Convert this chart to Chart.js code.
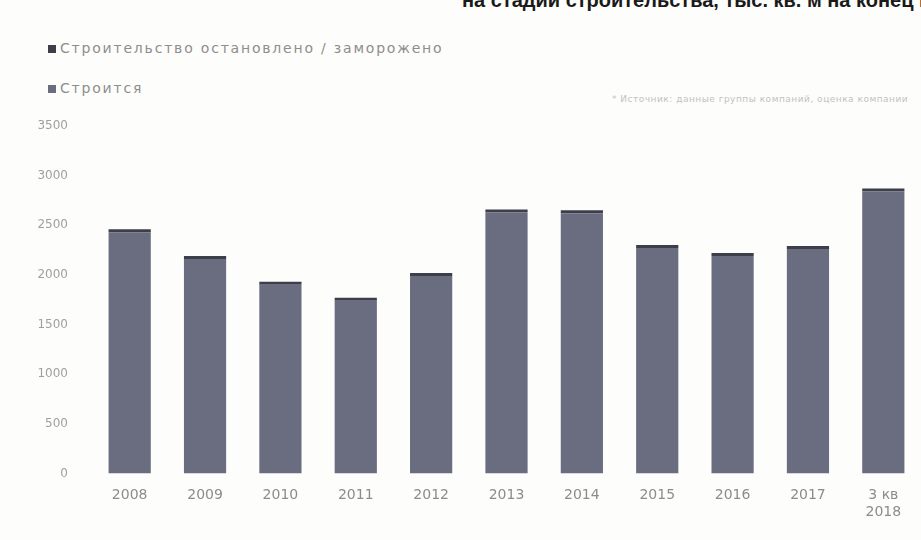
<!DOCTYPE html>
<html>
<head>
<meta charset="utf-8">
<script src="https://cdn.jsdelivr.net/npm/chart.js@4.4.1/dist/chart.umd.min.js"></script>
<style>
  body { margin: 0; background: #fdfdfb; font-family: "DejaVu Sans", sans-serif; }
  #wrap { position: relative; width: 921px; height: 540px; overflow: hidden; }
  #title { position: absolute; top: -11px; left: 462px; white-space: nowrap; font-family: "Liberation Sans", Arial, sans-serif; font-weight: bold; font-size: 20px; color: #1a1a1a; }
  #legend { position: absolute; left: 48px; top: 38px; font-size: 14px; letter-spacing: 1.8px; color: #8e8e8e; }
  #legend div { height: 40px; line-height: 20px; }
  #legend span.box { display: inline-block; width: 8px; height: 8px; margin-right: 4px; }
  #source { position: absolute; left: 612px; top: 94px; white-space: nowrap; font-size: 9px; letter-spacing: 0.5px; color: #c2c2c2; }
  #chart1 { position: absolute; left: 0; top: 0; }
</style>
</head>
<body>
<div id="wrap">
  <div id="title">на стадии строительства, тыс. кв. м на конец периода</div>
  <div id="legend"></div>
  <div id="source">* Источник: данные группы компаний, оценка компании</div>
  <canvas id="chart1" width="921" height="540"></canvas>
</div>
<script>
// data
const years = ["2008", "2009", "2010", "2011", "2012", "2013", "2014", "2015", "2016", "2017", ["3 кв", "2018"]];
const underConstruction = [2430, 2160, 1900, 1740, 1990, 2630, 2620, 2270, 2190, 2260, 2840];
const frozen = [30, 30, 30, 30, 30, 30, 30, 30, 30, 30, 30];
const yTicks = [0, 500, 1000, 1500, 2000, 2500, 3000, 3500];

const seriesNames = ["Строительство остановлено / заморожено", "Строится"];
const colFrozen = "#3c3e4a";
const colBuild = "#6a6d80";

// legend in html, stacked like the original
const legend_el = document.getElementById("legend");
[[seriesNames[0], colFrozen], [seriesNames[1], colBuild]].forEach(function (item) {
    const row = document.createElement("div");
    row.innerHTML = '<span class="box" style="background:' + item[1] + '"></span>' + item[0];
    legend_el.appendChild(row);
});

const chartOne = document.getElementById("chart1");

new Chart(chartOne, {
    type: 'bar',
    data: {
        labels: years,
        datasets: [{
            label: seriesNames[1],
            data: underConstruction,
            backgroundColor: colBuild,
            barPercentage: 0.56,
            categoryPercentage: 1
        }, {
            label: seriesNames[0],
            data: frozen,
            backgroundColor: colFrozen,
            barPercentage: 0.56,
            categoryPercentage: 1
        }]
    },
    options: {
        responsive: false,
        animation: false,
        layout: { padding: { top: 126, left: 0, right: 0, bottom: 13 } },
        plugins: {
            legend: { display: false },
            tooltip: { enabled: false }
        },
        scales: {
            x: {
                stacked: true,
                grid: { display: false },
                border: { display: false },
                ticks: { color: "#8c8c8c", font: { family: "DejaVu Sans", size: 14 }, padding: 6, maxRotation: 0 }
            },
            y: {
                stacked: true,
                min: 0,
                max: 3500,
                afterFit: function (scale) { scale.width = 92; },
                afterBuildTicks: function (scale) { scale.ticks = yTicks.map(v => ({ value: v })); },
                grid: { display: false },
                border: { display: false },
                ticks: {
                    color: "#a0a0a0",
                    font: { family: "DejaVu Sans", size: 12 },
                    padding: 16,
                    callback: function (v) { return String(v); }
                }
            }
        }
    }
});
</script>
</body>
</html>
